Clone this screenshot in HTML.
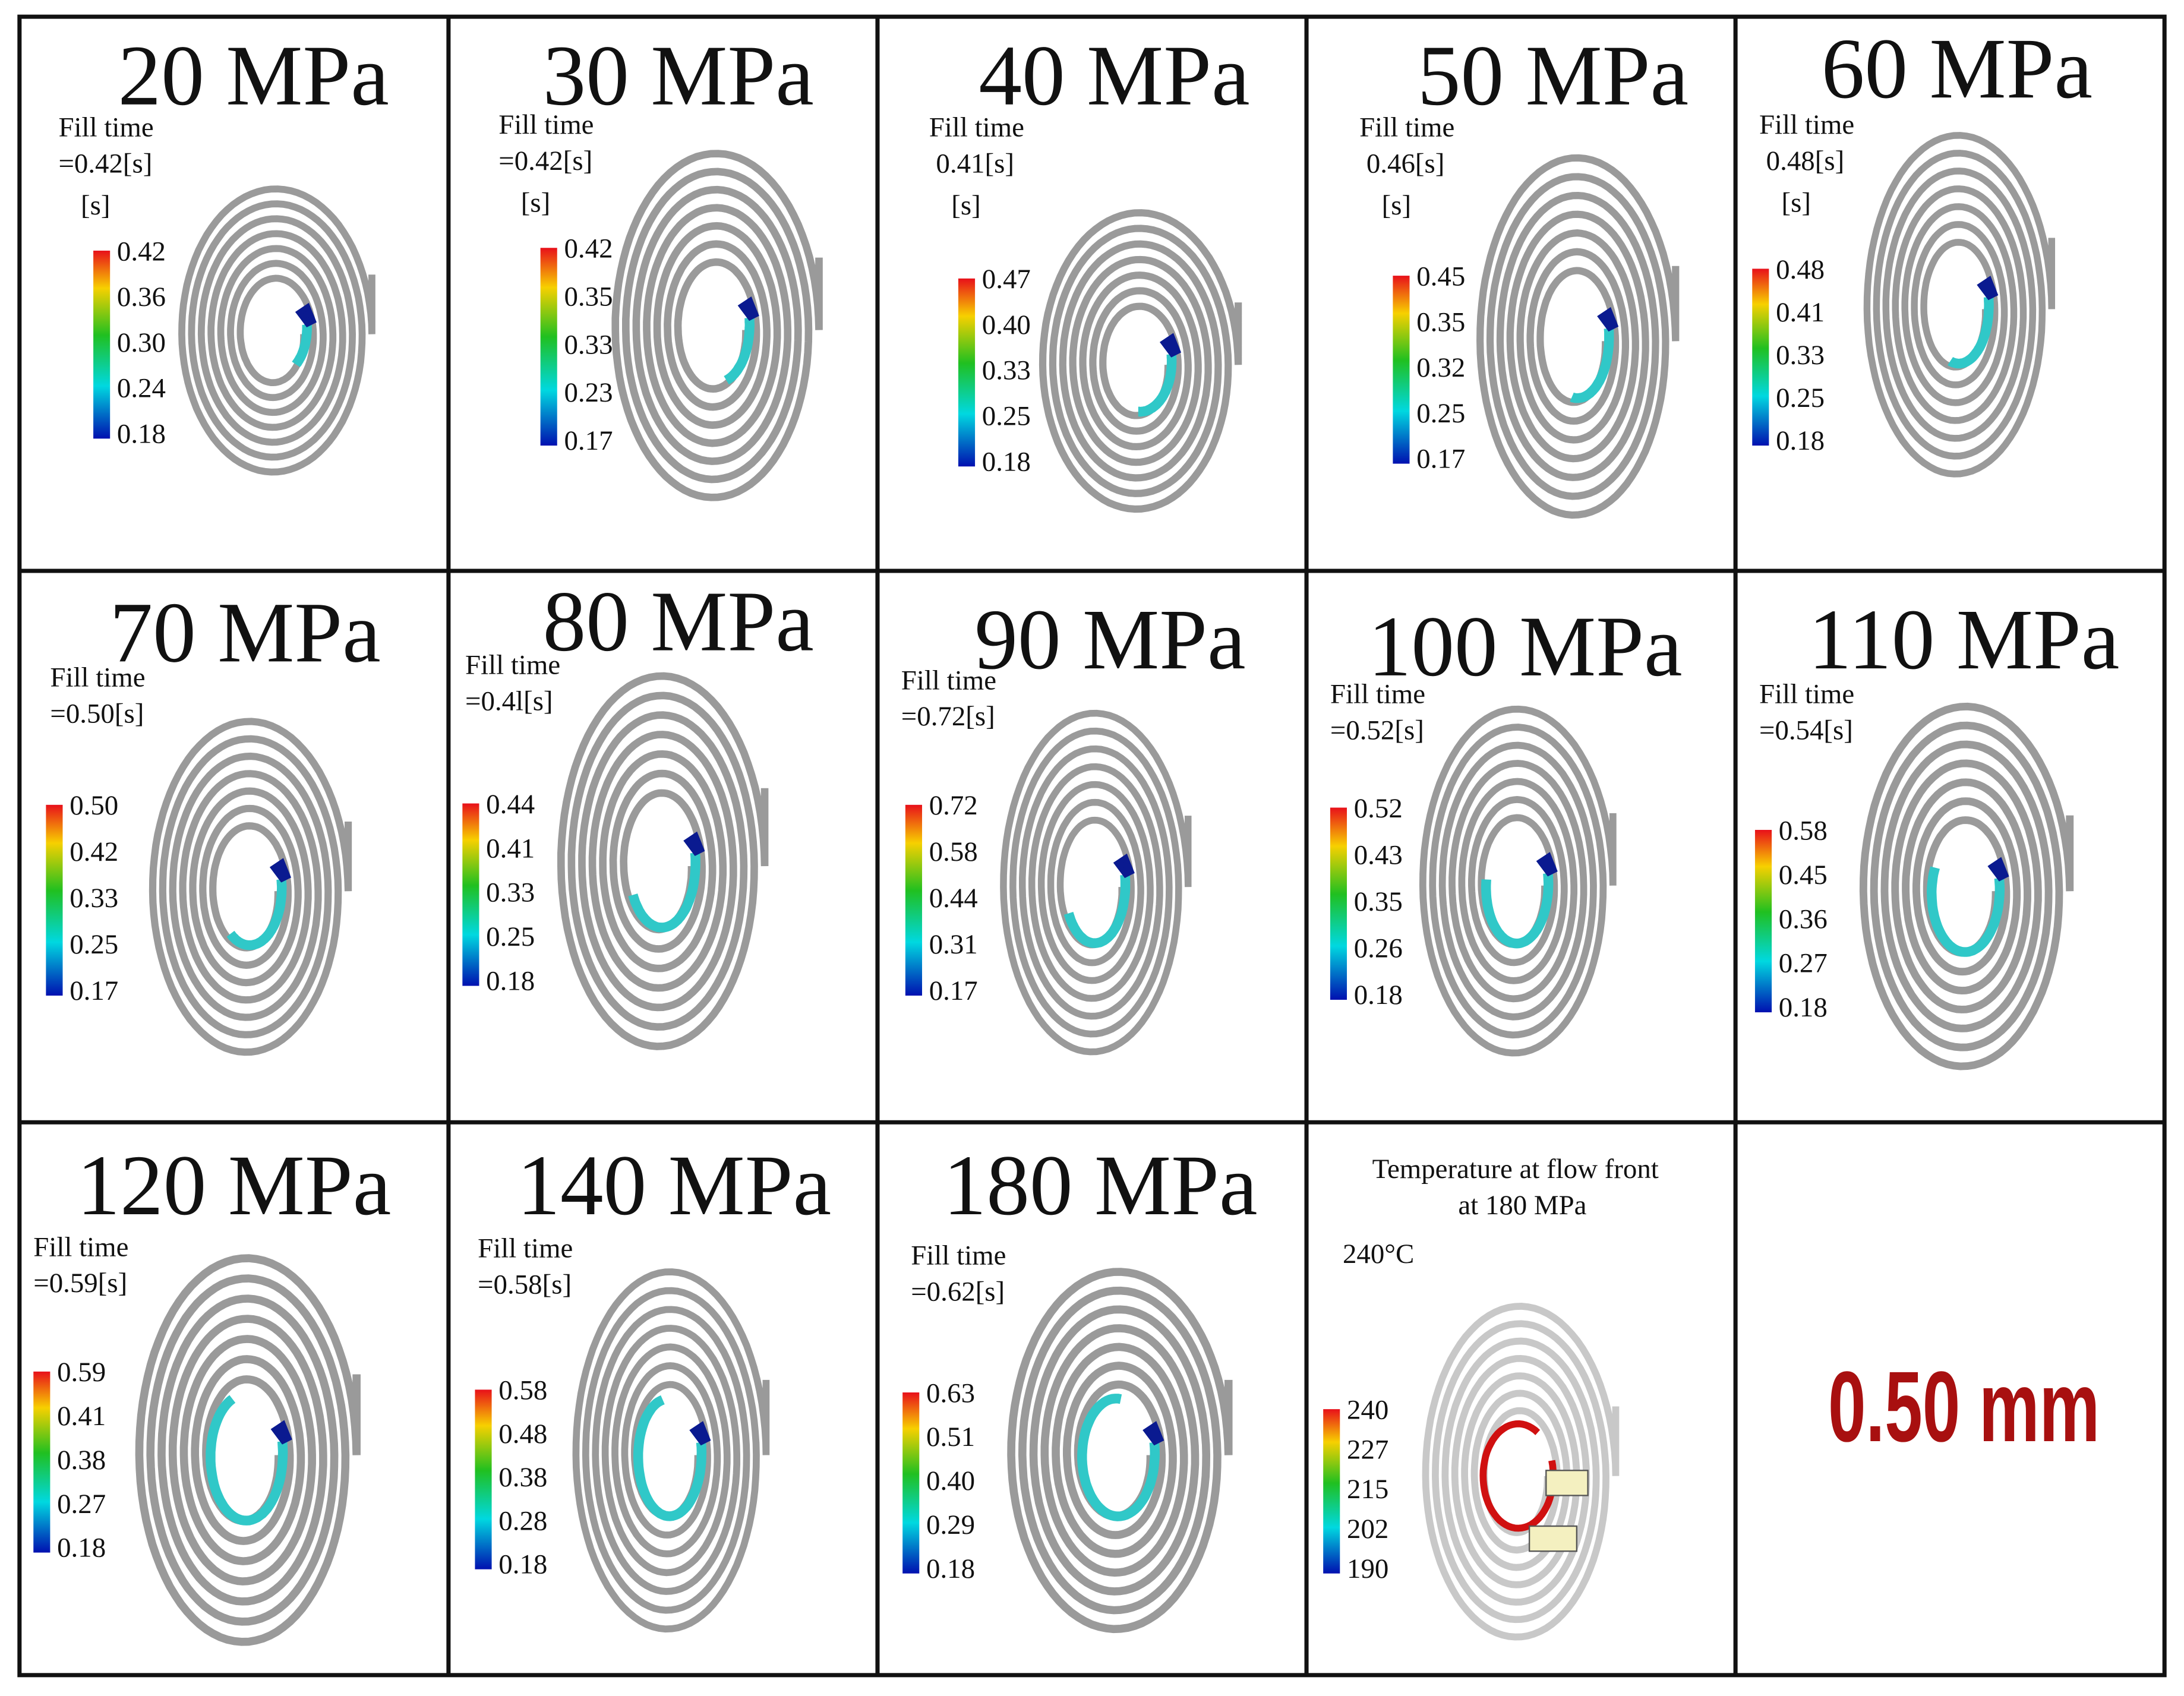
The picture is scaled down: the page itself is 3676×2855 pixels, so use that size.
<!DOCTYPE html>
<html><head><meta charset="utf-8"><style>
html,body{margin:0;padding:0;background:#fff}
svg{display:block}
text{font-family:"Liberation Serif",serif}
</style></head><body>
<svg id="fig" width="3676" height="2855" viewBox="0 0 1568 1218" preserveAspectRatio="none" xmlns="http://www.w3.org/2000/svg">
<defs>
<linearGradient id="cb" x1="0" y1="0" x2="0" y2="1">
<stop offset="0" stop-color="#e8101a"/><stop offset="0.2" stop-color="#f7d000"/><stop offset="0.45" stop-color="#20c020"/><stop offset="0.72" stop-color="#00d8e0"/><stop offset="1" stop-color="#0010b0"/>
</linearGradient>
</defs>
<rect x="0" y="0" width="1568" height="1218" fill="#fff"/>
<g id="grid" stroke="#111" stroke-width="3" fill="none">
<rect x="14" y="12" width="1540" height="1191"/>
<line x1="322" y1="12" x2="322" y2="1203"/><line x1="630" y1="12" x2="630" y2="1203"/>
<line x1="938" y1="12" x2="938" y2="1203"/><line x1="1246" y1="12" x2="1246" y2="1203"/>
<line x1="14" y1="410" x2="1554" y2="410"/><line x1="14" y1="806" x2="1554" y2="806"/>
</g>
<g id="panels"></g>
<text x="1410" y="1035" text-anchor="middle" font-size="72" font-weight="bold" fill="#a81010" style="font-family:'Liberation Sans',sans-serif" textLength="195" lengthAdjust="spacingAndGlyphs">0.50 mm</text>
</svg>
<script>
const pressures = ["20 MPa","30 MPa","40 MPa","50 MPa","60 MPa","70 MPa","80 MPa","90 MPa","100 MPa","110 MPa","120 MPa","140 MPa","180 MPa"];
const fillTimes = ["=0.42[s]","=0.42[s]","0.41[s]","0.46[s]","0.48[s]","=0.50[s]","=0.4l[s]","=0.72[s]","=0.52[s]","=0.54[s]","=0.59[s]","=0.58[s]","=0.62[s]"];
const flowFrac = [0.15,0.22,0.28,0.3,0.32,0.38,0.45,0.45,0.55,0.6,0.72,0.75,0.8];
const tickLabels = [
["0.42","0.36","0.30","0.24","0.18"],["0.42","0.35","0.33","0.23","0.17"],["0.47","0.40","0.33","0.25","0.18"],
["0.45","0.35","0.32","0.25","0.17"],["0.48","0.41","0.33","0.25","0.18"],["0.50","0.42","0.33","0.25","0.17"],
["0.44","0.41","0.33","0.25","0.18"],["0.72","0.58","0.44","0.31","0.17"],["0.52","0.43","0.35","0.26","0.18"],
["0.58","0.45","0.36","0.27","0.18"],["0.59","0.41","0.38","0.27","0.18"],["0.58","0.48","0.38","0.28","0.18"],
["0.63","0.51","0.40","0.29","0.18"]];
const tempTicks = ["240","227","215","202","190"];
const layout = [
[182,75,42,98,67,180,315,197,240,70,107,1],[487,75,358,96,388,178,320,513,237,75,130,1],
[800,75,667,98,688,200,335,817,262,72,112,1],[1115,75,976,98,1000,198,333,1131,245,72,135,1],
[1405,70,1263,96,1258,193,320,1405,222,68,128,1],[176,475,36,493,33,578,715,178,640,72,125,0],
[487,467,334,484,332,577,708,474,622,75,140,0],[797,480,647,495,650,578,715,785,637,68,128,0],
[1095,485,955,505,955,580,718,1088,636,70,130,0],[1410,480,1263,505,1260,596,727,1410,640,76,136,0],
[168,872,24,902,24,985,1115,176,1045,80,145,0],[484,872,343,903,341,998,1127,480,1045,70,135,0],
[790,872,654,908,648,1000,1130,802,1045,80,135,0]];
const NS="http://www.w3.org/2000/svg";
const root=document.getElementById('panels');
function mk(tag,attrs,parent){const e=document.createElementNS(NS,tag);for(const k in attrs)e.setAttribute(k,attrs[k]);parent.appendChild(e);return e;}
function txt(parent,x,y,s,size,anchor,fill){const t=mk('text',{x:x,y:y,'font-size':size,'text-anchor':anchor||'start',fill:fill||'#111'},parent);t.textContent=s;return t;}
function spiral(g,cx,cy,rx,ry,color){
  const turns=7,r0=0.3;let d='';
  for(let i=0;i<=turns*90;i++){const t=i/(turns*90);const a=t*turns*2*Math.PI;const r=r0+(1-r0)*t;
    const x=cx+rx*r*Math.cos(a),y=cy+ry*r*Math.sin(a);d+=(i?'L':'M')+x.toFixed(1)+' '+y.toFixed(1);}
  d+='L'+(cx+rx*1.0).toFixed(1)+' '+(cy-ry*0.4).toFixed(1);
  const p=mk('path',{d:d,fill:'none',stroke:color,'stroke-width':(rx*0.1*0.72).toFixed(1)},g);
  
  
}
function flow(g,cx,cy,rx,ry,frac,col){
  let d='';const n=60;
  for(let i=0;i<=n;i++){const a=-0.2+ (frac*Math.PI*2)*(i/n);const r=0.34-0.04*(i/n);
    const x=cx+rx*r*Math.cos(a),y=cy+ry*r*Math.sin(a);d+=(i?'L':'M')+x.toFixed(1)+' '+y.toFixed(1);}
  const p=mk('path',{d:d,fill:'none',stroke:col,'stroke-width':7},g);
  
  
  const h=mk('path',{d:'M'+(cx+rx*0.34)+' '+(cy-ry*0.07)+' l-6 -8 l6 -4 l4 10 z',fill:'#0a1a90',stroke:'#0a1a90','stroke-width':4},g);
  
  
}
function cbar(g,x,y0,y1,labels){
  const r=mk('rect',{x:x,y:y0,width:12,height:y1-y0,fill:'url(#cb)'},g);
  
  
  labels.forEach((s,i)=>{const t=txt(g,x+17,y0+7+(y1-y0-4)*i/(labels.length-1),s,20);
    
    });
}
layout.forEach((L,i)=>{
  const g=mk('g',{},root);
  
  
  spiral(g,L[7],L[8],L[9],L[10],'#9a9a9a');
  flow(g,L[7],L[8],L[9],L[10],flowFrac[i],'#30c8c8');
  const t=txt(g,L[0],L[1],pressures[i],62,'middle');
  
  
  const f=txt(g,L[2],L[3],'Fill time',20);
  
  
  const fv=txt(g,L[2]+(L[11]&&fillTimes[i][0]!='='?5:0),L[3]+26,fillTimes[i],20);
  
  
  if(L[11]){const u=txt(g,L[2]+16,L[3]+56,'[s]',20);
    
    }
  cbar(g,L[4],L[5],L[6],tickLabels[i]);
});
const tg=mk('g',{},root);


spiral(tg,1090,1060,70,125,'#c8c8c8');
let d='';for(let i=0;i<=60;i++){const a=-0.3+5.6*(i/60);const x=1090+70*0.36*Math.cos(a),y=1060+125*0.3*Math.sin(a);d+=(i?'L':'M')+x.toFixed(1)+' '+y.toFixed(1);}
const rp=mk('path',{d:d,fill:'none',stroke:'#d01010','stroke-width':5},tg);


const b1=mk('rect',{x:1110,y:1056,width:30,height:18,fill:'#f4f0c0',stroke:'#555','stroke-width':1},tg);


const b2=mk('rect',{x:1098,y:1096,width:34,height:18,fill:'#f4f0c0',stroke:'#555','stroke-width':1},tg);


const tt1=txt(tg,1088,846,'Temperature at flow front',20,'middle');


const tt2=txt(tg,1093,872,'at 180 MPa',20,'middle');


const tt3=txt(tg,964,907,'240°C',20);


cbar(tg,950,1012,1130,tempTicks);
</script>
</body></html>
